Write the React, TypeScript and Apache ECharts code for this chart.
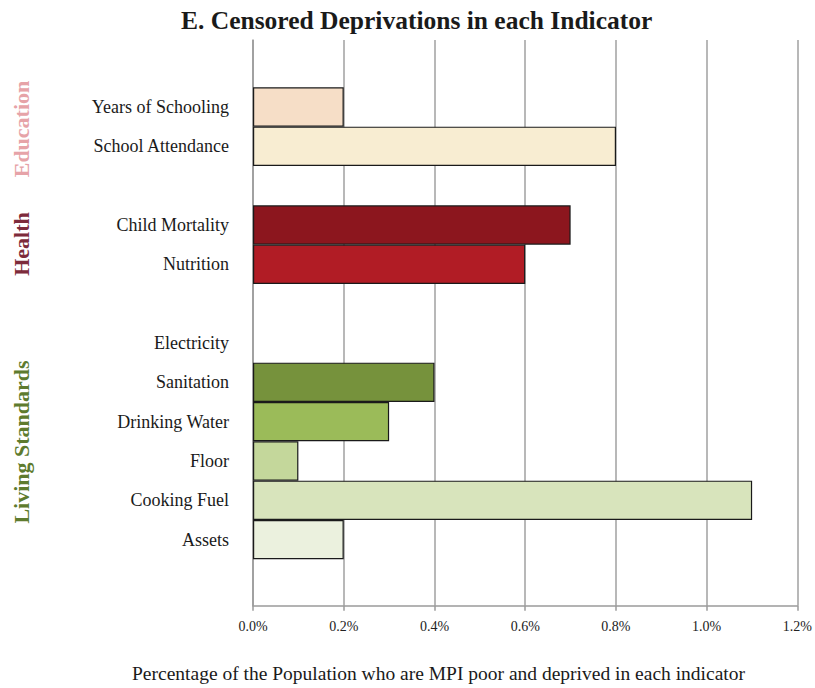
import React, { useEffect, useRef } from "react";
import * as echarts from "echarts";

const categories = [
  "Years of Schooling",
  "School Attendance",
  "",
  "Child Mortality",
  "Nutrition",
  "",
  "Electricity",
  "Sanitation",
  "Drinking Water",
  "Floor",
  "Cooking Fuel",
  "Assets",
];
const values: (number | null)[] = [0.2, 0.8, null, 0.7, 0.6, null, 0, 0.4, 0.3, 0.1, 1.1, 0.2];
const barColors = [
  "#f6dec7",
  "#f8edd2",
  "#ffffff",
  "#8c161e",
  "#b11c25",
  "#ffffff",
  "#ffffff",
  "#76923c",
  "#9bbb59",
  "#c4d79b",
  "#d8e4bc",
  "#ebf1de",
];
const groups = ["Education", "Health", "Living Standards"];
const groupColors = ["#e6a3a8", "#7d2b3b", "#5e7b2e"];
const groupCenters = [129, 244, 442];

const SERIF = "'Liberation Serif', 'DejaVu Serif', serif";

export default function App() {
  const ref = useRef<HTMLDivElement>(null);
  useEffect(() => {
    if (!ref.current) return;
    const chart = echarts.init(ref.current, null, { renderer: "svg" });
    const plotLeft = 253;
    const plotRight = 815 - 797.5;
    chart.setOption({
      animation: false,
      backgroundColor: "#ffffff",
      title: {
        text: "E. Censored Deprivations in each Indicator",
        left: 176,
        top: 2,
        textStyle: {
          fontFamily: SERIF,
          fontSize: 25.5,
          fontWeight: "bold",
          color: "#1a1a1a",
        },
      },
      grid: [
        { left: plotLeft, right: plotRight, top: 40, bottom: 688 - 605.7 },
        { left: plotLeft, right: plotRight, top: 87.3, height: 472 },
      ],
      xAxis: [
        {
          gridIndex: 0,
          type: "value",
          min: 0,
          max: 1.2,
          interval: 0.2,
          axisLine: { show: true, lineStyle: { color: "#9a9a9a", width: 1.5 } },
          axisTick: { show: true, length: 5, inside: false, lineStyle: { color: "#9a9a9a", width: 1.5 } },
          splitLine: { show: true, lineStyle: { color: "#a0a0a0", width: 1.5 } },
          axisLabel: {
            margin: 14,
            fontFamily: SERIF,
            fontSize: 14,
            color: "#222",
            formatter: (v: number) => v.toFixed(1) + "%",
          },
        },
        {
          gridIndex: 1,
          type: "value",
          min: 0,
          max: 1.2,
          show: false,
        },
      ],
      yAxis: [
        {
          gridIndex: 0,
          type: "value",
          min: 0,
          max: 1,
          axisLine: { show: true, lineStyle: { color: "#9a9a9a", width: 1.5 } },
          axisTick: { show: false },
          axisLabel: { show: false },
          splitLine: { show: false },
        },
        {
          gridIndex: 1,
          type: "category",
          inverse: true,
          data: categories,
          axisLine: { show: false },
          axisTick: { show: false },
          axisLabel: {
            margin: 24,
            fontFamily: SERIF,
            fontSize: 18,
            color: "#1a1a1a",
          },
        },
      ],
      series: [
        {
          type: "bar",
          xAxisIndex: 1,
          yAxisIndex: 1,
          barCategoryGap: 0,
          data: values.map((v, i) => ({
            value: v,
            itemStyle: {
              color: barColors[i],
              borderColor: v ? "#1a1a1a" : "transparent",
              borderWidth: 1.2,
            },
          })),
        },
      ],
      graphic: [
        ...groups.map((g, i) => ({
          type: "text",
          x: 21,
          y: groupCenters[i],
          rotation: Math.PI / 2,
          style: {
            text: g,
            fontFamily: SERIF,
            fontSize: 22,
            fontWeight: "bold",
            fill: groupColors[i],
            textAlign: "center",
            textVerticalAlign: "middle",
          },
        })),
        {
          type: "text",
          left: 132,
          top: 663,
          style: {
            text: "Percentage of the Population who are MPI poor and deprived in each indicator",
            fontFamily: SERIF,
            fontSize: 19.5,
            fill: "#1a1a1a",
          },
        },
      ],
    });
    return () => chart.dispose();
  }, []);
  return (
    <div
      ref={ref}
      style={{ position: "fixed", left: 0, top: 0, width: 815, height: 688, background: "#fff" }}
    />
  );
}
